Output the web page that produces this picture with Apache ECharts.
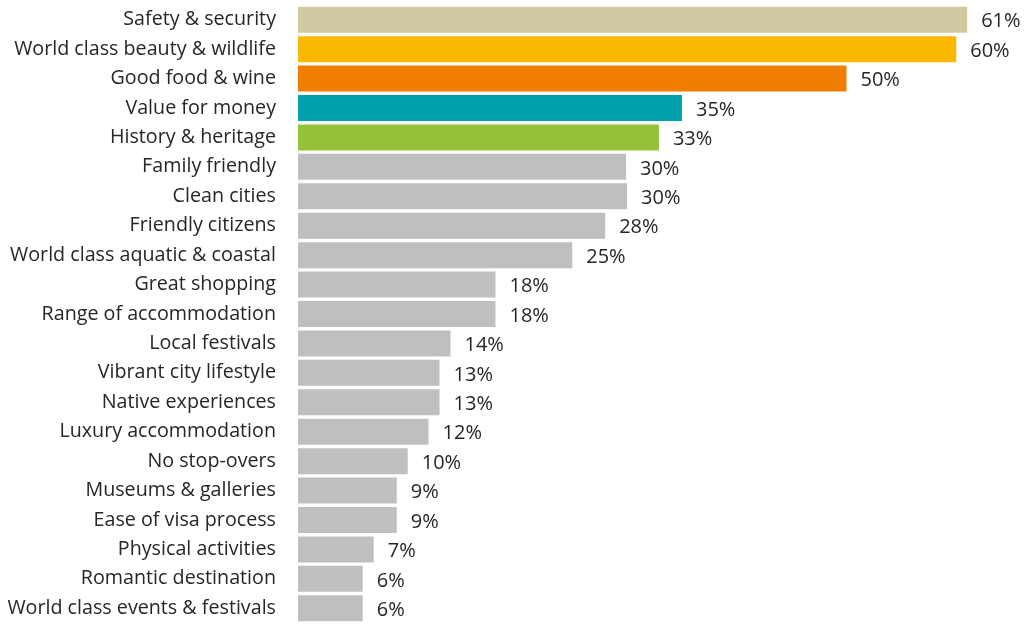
<!DOCTYPE html>
<html><head><meta charset="utf-8">
<script src="https://cdn.jsdelivr.net/npm/echarts@6/dist/echarts.min.js"></script>
<style>html,body{margin:0;padding:0;background:#fff}#c{width:1025px;height:624px}</style>
</head><body><div id="c"></div>
<script>
const categories = ["Safety & security","World class beauty & wildlife","Good food & wine","Value for money","History & heritage","Family friendly","Clean cities","Friendly citizens","World class aquatic & coastal","Great shopping","Range of accommodation","Local festivals","Vibrant city lifestyle","Native experiences","Luxury accommodation","No stop-overs","Museums & galleries","Ease of visa process","Physical activities","Romantic destination","World class events & festivals"];
const values = [61.0,60.0,50.0,35.0,32.9,29.9,30.0,28.0,25.0,18.0,18.0,13.9,12.9,12.9,11.9,10.0,9.0,9.0,6.9,5.9,5.9];
const colors = ["#D1C9A1","#FAB800","#EF7D00","#00A1AE","#95C23B","#BFBFBF","#BFBFBF","#BFBFBF","#BFBFBF","#BFBFBF","#BFBFBF","#BFBFBF","#BFBFBF","#BFBFBF","#BFBFBF","#BFBFBF","#BFBFBF","#BFBFBF","#BFBFBF","#BFBFBF","#BFBFBF"];
const font = "'Open Sans', sans-serif";
const chart = echarts.init(document.getElementById('c'));
chart.setOption({
  animation:false,
  grid:{left:298,right:1025-298-65*10.97,top:5,bottom:1,containLabel:false},
  xAxis:{type:'value',min:0,max:65,show:false},
  yAxis:{type:'category',data:categories,inverse:true,
    axisLine:{show:false},axisTick:{show:false},
    axisLabel:{margin:22,fontSize:19.7,color:'#262626',fontFamily:font,padding:[4,0,0,0]}},
  series:[{type:'bar',barCategoryGap:'11.7%',
    data:values.map((v,i)=>({value:v,itemStyle:{color:colors[i]}})),
    label:{show:true,position:'right',distance:14,offset:[0,2],fontSize:20,color:'#262626',fontFamily:font,
      formatter:p=>Math.round(p.value)+'%'}}]
});
</script></body></html>
